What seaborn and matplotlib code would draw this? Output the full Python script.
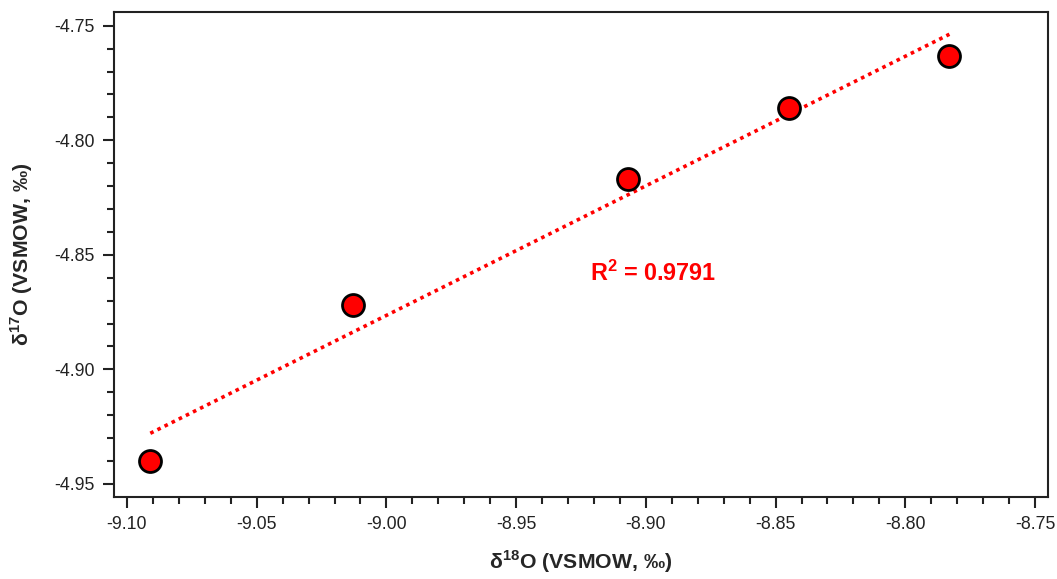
import numpy as np
import pandas as pd
import matplotlib
matplotlib.use("Agg")
import matplotlib.pyplot as plt
from matplotlib.ticker import MultipleLocator, FormatStrFormatter
import seaborn as sns

# values
d18O = [-9.091, -9.013, -8.907, -8.845, -8.783]
d17O = [-4.940, -4.872, -4.817, -4.786, -4.763]
r2_label = r"R$^{\mathbf{2}}$ = 0.9791"

df = pd.DataFrame({"d18O": d18O, "d17O": d17O})

sns.set_style("ticks")
plt.rcParams["font.family"] = ["Liberation Sans", "DejaVu Sans"]
plt.rcParams["mathtext.fontset"] = "custom"
plt.rcParams["mathtext.rm"] = "Liberation Sans"
plt.rcParams["mathtext.bf"] = "Liberation Sans:bold"

fig = plt.figure(figsize=(10.57, 5.79), dpi=100)
ax = fig.add_axes([114 / 1057, 1 - 497 / 579, (1048 - 114) / 1057, (497 - 12) / 579])

sns.regplot(data=df, x="d18O", y="d17O", ax=ax, ci=None,
            scatter_kws=dict(s=250, color="#ff0000", edgecolor="black", linewidths=2, alpha=1, zorder=3),
            line_kws=dict(color="#ff0000", lw=2.6, linestyle=(0, (1, 1.2)), zorder=2))

ax.set_xlim(-9.105, -8.745)
ax.set_ylim(-4.9557, -4.744)
ax.xaxis.set_major_locator(MultipleLocator(0.05))
ax.xaxis.set_minor_locator(MultipleLocator(0.01))
ax.yaxis.set_major_locator(MultipleLocator(0.05))
ax.yaxis.set_minor_locator(MultipleLocator(0.01))
ax.xaxis.set_major_formatter(FormatStrFormatter("%.2f"))
ax.yaxis.set_major_formatter(FormatStrFormatter("%.2f"))
ax.tick_params(which="major", length=8, width=1.5, labelsize=12.8, color="#222222", labelcolor="#222222", pad=6)
ax.tick_params(which="minor", length=5, width=1.5, color="#222222")
for sp in ax.spines.values():
    sp.set_linewidth(1.5)
    sp.set_color("#222222")

ax.set_xlabel(r"δ$^{\mathbf{18}}$O (VSMOW, ‰)", fontsize=15.3, fontweight="bold", labelpad=11)
ax.set_ylabel(r"δ$^{\mathbf{17}}$O (VSMOW, ‰)", fontsize=15.3, fontweight="bold", labelpad=14)

ax.text(-8.897, -4.858, r2_label, color="#ff0000", fontsize=16.8,
        fontweight="bold", ha="center", va="center")

fig.savefig("out.png", dpi=100)
